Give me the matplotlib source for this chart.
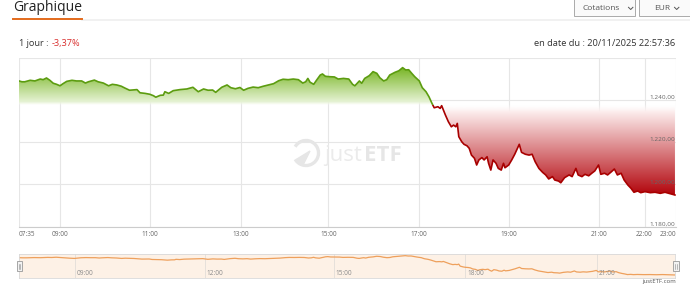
import numpy as np
import matplotlib
matplotlib.use('Agg')
import matplotlib.pyplot as plt
from matplotlib.colors import LinearSegmentedColormap
from matplotlib.patches import Rectangle, Arc, Polygon
from matplotlib.lines import Line2D
from matplotlib.transforms import blended_transform_factory

plt.rcParams['font.family'] = ['Open Sans', 'DejaVu Sans']

# intraday quote, minutes after midnight -> price (EUR)
minutes = [455, 461, 467, 478, 488, 499, 505, 512, 519, 526, 533, 540, 544, 549, 556, 562, 569,
           574, 578, 586, 591, 598, 605, 610, 616, 622, 627, 633, 643, 647, 654, 660, 665, 668,
           674, 678, 680, 685, 691, 700, 709, 717, 724, 731, 737, 743, 747, 755, 762, 767, 773,
           779, 784, 790, 797, 804, 811, 818, 825, 832, 838, 845, 852, 859, 865, 869, 872, 875,
           880, 884, 889, 892, 896, 902, 908, 913, 920, 927, 932, 935, 941, 944, 948, 954, 959,
           964, 968, 973, 977, 981, 988, 993, 998, 1002, 1006, 1010, 1014, 1020, 1024, 1029,
           1033, 1037, 1040, 1045, 1048, 1050, 1055, 1059, 1063, 1066, 1069, 1071, 1073, 1077,
           1080, 1084, 1087, 1090, 1094, 1097, 1100, 1104, 1107, 1111, 1113, 1116, 1119, 1123,
           1126, 1130, 1133, 1135, 1140, 1144, 1148, 1154, 1157, 1162, 1167, 1171, 1175, 1180,
           1185, 1189, 1193, 1198, 1201, 1206, 1209, 1214, 1218, 1220, 1224, 1229, 1232, 1237,
           1241, 1246, 1250, 1254, 1259, 1262, 1267, 1271, 1276, 1280, 1284, 1289, 1293, 1298,
           1302, 1306, 1311, 1315, 1321, 1331, 1340, 1350, 1359, 1369, 1378]
prices = [1249.0, 1248.6, 1248.6, 1249.3, 1249.0, 1249.9, 1249.6, 1250.4, 1249.3, 1247.9, 1247.4,
          1246.7, 1247.7, 1248.8, 1249.3, 1249.0, 1249.0, 1248.0, 1248.6, 1249.4, 1248.6, 1248.0,
          1246.7, 1247.4, 1247.1, 1246.5, 1245.6, 1244.6, 1244.9, 1243.4, 1243.1, 1242.7, 1242.0,
          1241.3, 1242.2, 1242.3, 1243.9, 1243.1, 1244.4, 1244.9, 1245.2, 1246.0, 1243.9, 1245.2,
          1244.6, 1244.7, 1243.6, 1246.0, 1247.1, 1245.8, 1245.3, 1245.9, 1244.6, 1245.5, 1246.1,
          1245.8, 1246.5, 1247.1, 1247.7, 1249.1, 1249.8, 1249.6, 1249.9, 1249.6, 1248.0, 1248.6,
          1250.2, 1248.4, 1247.4, 1249.4, 1251.8, 1252.3, 1251.2, 1251.0, 1250.9, 1249.9, 1250.2,
          1249.9, 1247.4, 1246.7, 1249.0, 1247.9, 1250.2, 1251.5, 1253.4, 1252.6, 1250.5, 1249.0,
          1249.6, 1251.8, 1253.1, 1253.8, 1255.3, 1254.2, 1254.3, 1252.6, 1251.0, 1249.0, 1245.8,
          1243.9, 1241.5, 1238.4, 1236.3, 1236.8, 1236.0, 1237.3, 1232.9, 1229.7, 1227.3, 1228.1,
          1227.3, 1228.9, 1222.6, 1220.2, 1219.0, 1218.3, 1217.1, 1213.9, 1212.4, 1209.2, 1211.6,
          1212.7, 1211.6, 1213.1, 1210.0, 1206.8, 1211.6, 1210.0, 1207.6, 1206.8, 1210.0, 1207.9,
          1209.2, 1211.6, 1214.3, 1219.0, 1215.2, 1214.3, 1213.9, 1214.3, 1210.8, 1207.6, 1205.7,
          1204.5, 1202.6, 1203.7, 1202.1, 1201.6, 1200.8, 1203.2, 1204.1, 1204.5, 1203.7, 1207.6,
          1204.5, 1203.7, 1204.8, 1204.1, 1205.3, 1206.4, 1209.2, 1204.8, 1205.3, 1204.5, 1206.0,
          1207.3, 1204.5, 1205.3, 1202.1, 1199.7, 1198.2, 1196.3, 1196.9, 1196.1, 1196.6, 1196.1,
          1196.3, 1195.8, 1196.3, 1195.6, 1195.0]
prev_close = 1237.8

tick_labels = ['07:35', '09:00', '11:00', '13:00', '15:00', '17:00', '19:00', '21:00', '22:00', '23:00']
tick_min = [455, 540, 660, 780, 900, 1020, 1140, 1260, 1320, 1380]
y_ticks = [1180, 1200, 1220, 1240, 1260]
y_labels = ['1.180,00', '1.200,00', '1.220,00', '1.240,00']

nav_labels = ['09:00', '12:00', '15:00', '18:00', '21:00']
nav_ticks = [540, 720, 900, 1080, 1260]

# ordinal-like axis: where each tick sits along the axis (pixels)
tick_pos = [0, 41, 130.7, 221.7, 309.3, 400.3, 489.7, 580.3, 625.5, 657]
nav_anchor = [455, 540, 720, 900, 1080, 1260, 1378]
nav_pos = [0, 55.5, 186, 314.5, 446.3, 578, 656]

t = np.array(minutes, dtype=float)
p = np.array(prices)

W, H = 690, 289
fig = plt.figure(figsize=(W / 100, H / 100), dpi=100)


def fy(py):
    return 1 - py / H


# watermark (behind the transparent axes)
fig.text(362 / W, fy(161), 'just', fontsize=16, color='#ebebeb', ha='right', va='baseline', zorder=0)
fig.text(364 / W, fy(161), 'ETF', fontsize=16, color='#e6e6e6', ha='left', va='baseline',
         fontweight='bold', zorder=0)
fig.add_artist(Arc((3.06, (H - 153) / 100), 0.25, 0.25, theta1=-150, theta2=150,
                   transform=fig.dpi_scale_trans, color='#e6e6e6', lw=2.4, zorder=0))
fig.add_artist(Polygon([(2.97, (H - 159) / 100), (3.10, (H - 151) / 100), (3.03, (H - 165) / 100)],
                       transform=fig.dpi_scale_trans, color='#e6e6e6', zorder=0))

# ---- main chart
ax = fig.add_axes([19 / W, fy(226.7), 657 / W, 169 / H])
ax.set_facecolor('none')
ax.set_xscale('function', functions=(lambda v: np.interp(v, tick_min, tick_pos),
                                     lambda v: np.interp(v, tick_pos, tick_min)))
trans = blended_transform_factory(ax.transAxes, ax.transData)
grad = np.linspace(0, 1, 256).reshape(-1, 1)

green_cmap = LinearSegmentedColormap.from_list(
    'g', [(0, (1, 1, 1, 0)), (0.12, (0.90, 0.95, 0.83, 1)), (1, (0.47, 0.71, 0.14, 1))])
img_g = ax.imshow(grad, cmap=green_cmap, extent=(0, 1, prev_close - 1, p.max()), origin='lower',
                  aspect='auto', transform=trans, zorder=1, interpolation='bilinear')
poly_g = ax.fill_between(t, np.maximum(p, prev_close), prev_close, color='none', lw=0)
img_g.set_clip_path(poly_g.get_paths()[0], ax.transData)

red_cmap = LinearSegmentedColormap.from_list(
    'r', [(0, (1, 1, 1, 0)), (0.08, (0.99, 0.93, 0.93, 1)), (1, (0.70, 0.02, 0.05, 1))])
img_r = ax.imshow(grad[::-1], cmap=red_cmap, extent=(0, 1, p.min(), prev_close), origin='lower',
                  aspect='auto', transform=trans, zorder=1, interpolation='bilinear')
poly_r = ax.fill_between(t, np.minimum(p, prev_close), prev_close, color='none', lw=0)
img_r.set_clip_path(poly_r.get_paths()[0], ax.transData)

line_g, = ax.plot(t, p, color='#5c9c10', lw=1.2, zorder=3)
line_g.set_clip_path(Rectangle((0, prev_close), 1, 200, transform=trans))
line_r, = ax.plot(t, p, color='#a80000', lw=1.2, zorder=3)
line_r.set_clip_path(Rectangle((0, prev_close - 200), 1, 200, transform=trans))

ax.set_xticks(tick_min)
ax.set_xticklabels(tick_labels)
ax.set_yticks(y_ticks)
ax.tick_params(axis='y', left=False, labelleft=False)
ax.tick_params(axis='x', length=0, pad=3, labelsize=4.7, labelcolor='#666666')
xl = ax.get_xticklabels()
xl[0].set_ha('left')
xl[-1].set_ha('right')
ax.grid(True, color='#e6e6e6', lw=0.8)
ax.set_axisbelow(True)
for s in ['top', 'left', 'right']:
    ax.spines[s].set_visible(False)
ax.spines['bottom'].set_color('#cccccc')
ax.spines['bottom'].set_linewidth(0.8)
for v, lab in zip(y_ticks, y_labels):
    ax.text(0.998, v, lab, transform=trans, ha='right', va='bottom', fontsize=4.6,
            color='#666666', zorder=4)

ax.set_xlim(455, 1380)
ax.set_ylim(1180, 1260)

# ---- navigator
nav = fig.add_axes([19 / W, fy(277.7), 656 / W, 23.7 / H])
nav.set_xscale('function', functions=(lambda v: np.interp(v, nav_anchor, nav_pos),
                                      lambda v: np.interp(v, nav_pos, nav_anchor)))
nav.set_facecolor('#fdf1e6')
nav.plot(t, p, color='#eea05c', lw=0.9)
nav.set_xticks(nav_ticks)
nav.set_yticks([])
nav.tick_params(axis='x', length=0, labelbottom=False)
nav.grid(True, axis='x', color='#e2ddd8', lw=0.6)
for s in nav.spines.values():
    s.set_color('#d9d9d9')
    s.set_linewidth(0.6)
nav_trans = blended_transform_factory(nav.transData, nav.transAxes)
for v, lab in zip(nav_ticks, nav_labels):
    nav.annotate(lab, (v, 0.19), xycoords=nav_trans, xytext=(1.2, 0), textcoords='offset points',
                 ha='left', va='center', fontsize=4.7, color='#8a8a8a')
nav.set_xlim(455, 1378)
nav.set_ylim(1186.5, 1260.5)

for hx in [16.7, 673.3]:
    fig.add_artist(Rectangle((hx / W, fy(270.7)), 5.3 / W, 9.5 / H, transform=fig.transFigure,
                             fc='#f2f2f2', ec='#999999', lw=0.6))
    for dx in [1.9, 3.4]:
        fig.add_artist(Line2D([(hx + dx) / W] * 2, [fy(268.5), fy(263.5)], color='#888888', lw=0.4))

fig.text(676 / W, fy(281.7), 'justETF.com', fontsize=4.3, color='#555555', ha='right', va='center')

# ---- header
fig.text(13 / W, fy(10.7), 'Graphique', fontsize=10, color='#222222', va='baseline')
fig.add_artist(Line2D([81.7 / W, 1], [fy(19.5)] * 2, color='#efefef', lw=1.2))
fig.add_artist(Line2D([12.7 / W, 81.7 / W], [fy(19.2)] * 2, color='#e36a1c', lw=1.4))

for bx, bw, label, lx, cx in [(574, 61.3, 'Cotations', 582.7, 630.7), (639, 52, 'EUR', 654, 676.7)]:
    fig.add_artist(Rectangle((bx / W, fy(15.7)), bw / W, 18 / H, transform=fig.transFigure,
                             fc='#fafafa', ec='#aaaaaa', lw=0.7))
    fig.text(lx / W, fy(10.5), label, fontsize=6, color='#555555', va='baseline')
    fig.add_artist(Line2D([(cx - 2.2) / W, cx / W, (cx + 2.2) / W], [fy(7.3), fy(9.5), fy(7.3)],
                          color='#555555', lw=0.7))

fig.text(19 / W, fy(45.7), '1 jour : ', fontsize=6.6, color='#333333', va='baseline')
fig.text(51.7 / W, fy(45.7), '-3,37%', fontsize=6.6, color='#d9302f', va='baseline')
fig.text(675.5 / W, fy(45.7), 'en date du : 20/11/2025 22:57:36', fontsize=6.7, color='#333333',
         ha='right', va='baseline')

fig.savefig('out.png', dpi=100)
